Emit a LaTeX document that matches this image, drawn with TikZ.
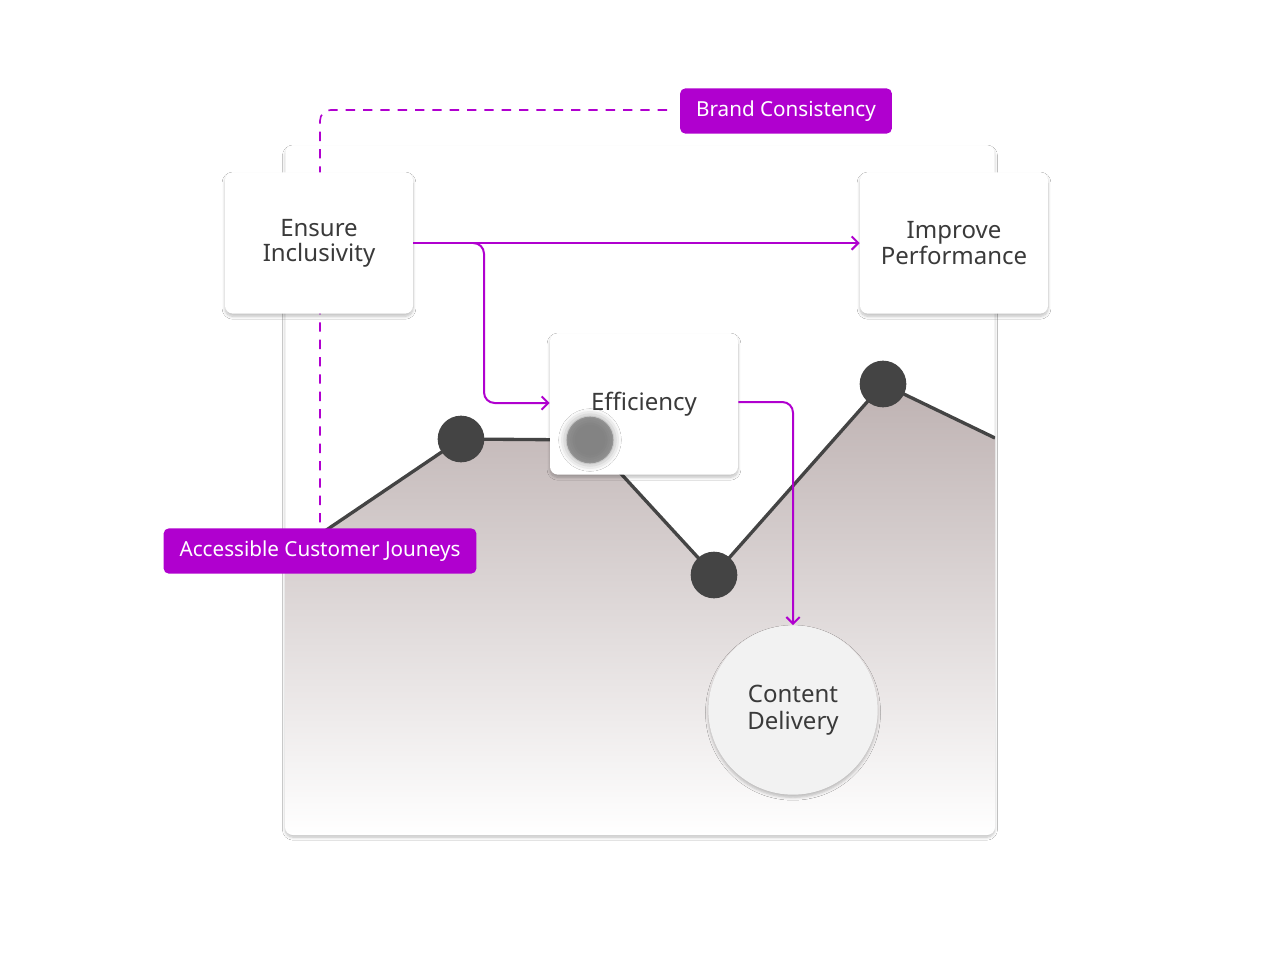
\documentclass[tikz,border=0pt]{standalone}
\usepackage{fontspec}
\setmainfont{Noto Sans}
\usetikzlibrary{shadows.blur,arrows.meta}
\definecolor{pur}{HTML}{B000CF}
\definecolor{txt}{HTML}{3A3A3A}
\definecolor{taupe}{HTML}{BEB2B2}
\definecolor{dot}{HTML}{444444}
\begin{document}
\begin{tikzpicture}[x=0.75pt,y=-0.75pt,
  card/.style={fill=white,rounded corners=6pt,blur shadow={shadow blur steps=8,shadow xshift=0pt,shadow yshift=-2pt,shadow opacity=25}},
  box/.style={card,minimum width=141pt,minimum height=106pt,align=center,text=txt,font=\fontsize{18}{19}\selectfont},
  tag/.style={fill=pur,rounded corners=4pt,text=white,font=\fontsize{15.5}{17}\selectfont,minimum height=34pt,inner xsep=12pt},
  pl/.style={draw=pur,line width=1.5pt,rounded corners=8pt},
  arr/.style={pl,-{Straight Barb[length=5pt,width=10pt]}},
  pt/.style={circle,fill=dot,minimum size=35pt,inner sep=0pt}]
\useasboundingbox (0,0) rectangle (1280,960);
\fill[white] (0,0) rectangle (1280,960);
\node[card,minimum width=532pt,minimum height=517pt,anchor=north west] (bg) at (285,145) {};
\begin{scope}
\clip[rounded corners=6pt] (285,145) rectangle (995,835);
\shade[top color=taupe,bottom color=white] (285,558) -- (461,439) -- (590,440) -- (714,575) -- (883,384) -- (995,438) -- (995,835) -- (285,835) -- cycle;
\draw[dot,line width=2.5pt] (285,558) -- (461,439) -- (590,440) -- (714,575) -- (883,384) -- (995,438);
\end{scope}
\draw[pur,line width=1.2pt,dash pattern=on 7pt off 6pt,rounded corners=8pt] (667,110) -- (320,110) -- (320,530);
\node[box] (ens) at (319,243) {Ensure\\Inclusivity};
\node[box] (imp) at (954,243) {Improve\\Performance};
\node[box] (eff) at (644,404) {Efficiency};
\node[pt] (d1) at (461,439) {};
\node[pt] (d2) at (714,575) {};
\node[pt] (d3) at (883,384) {};
\node[circle,fill=dot!70,minimum size=35pt,inner sep=0pt,opacity=0.7,blur shadow={shadow xshift=0pt,shadow yshift=0pt,shadow blur radius=6pt,shadow opacity=60}] (d0) at (590,440) {};
\node[circle,fill=gray!10,minimum size=127pt,align=center,text=txt,font=\bfseries\fontsize{18}{20}\selectfont,blur shadow={shadow xshift=0pt,shadow yshift=-2pt,shadow opacity=25}] (cd) at (793,710) {Content\\Delivery};
\node[tag] (brand) at (786,111) {Brand Consistency};
\node[tag] (acc) at (320,551) {Accessible Customer Jouneys};
\draw[arr] (ens.east |- 0,243) -- (imp.west |- 0,243);
\draw[arr] (475,243) -- (484,243) -- (484,403) -- (eff.west |- 0,403);
\draw[arr] (eff.east |- 0,402) -- (793,402) -- (cd.north);
\end{tikzpicture}
\end{document}
